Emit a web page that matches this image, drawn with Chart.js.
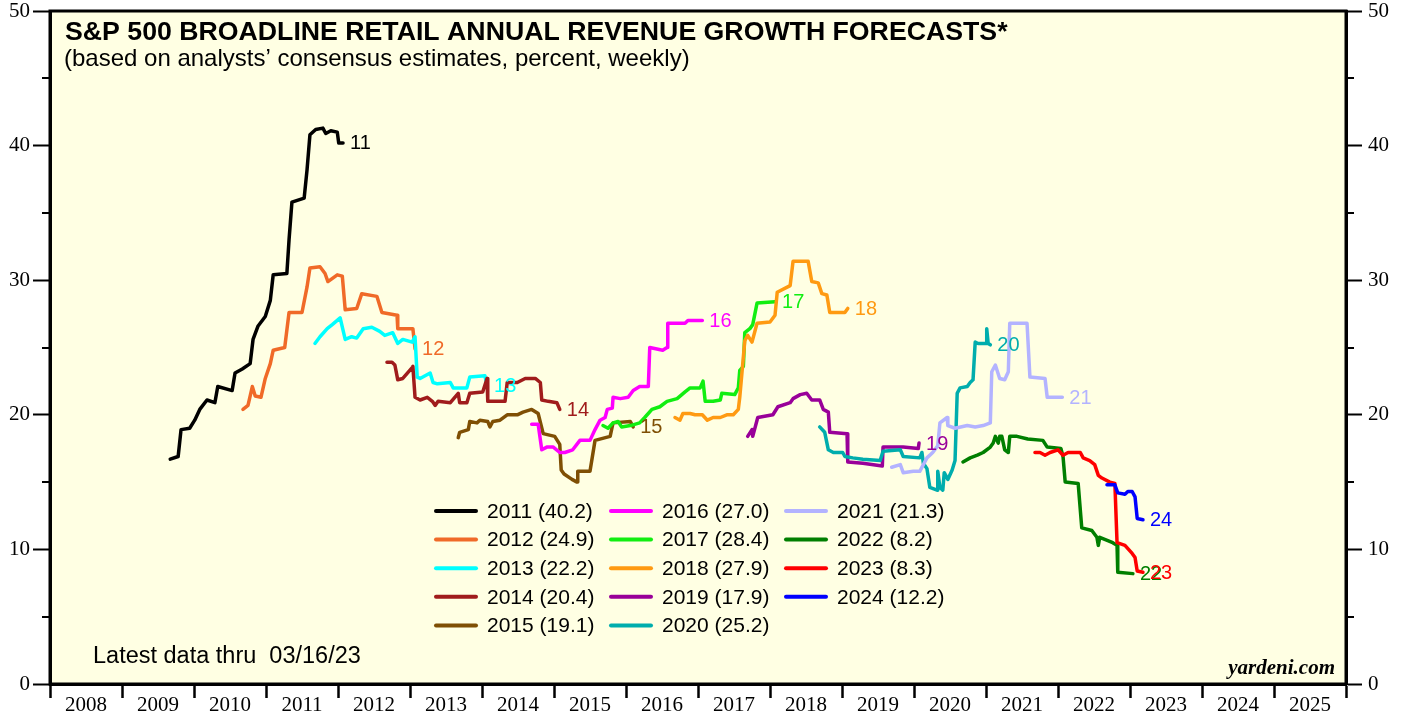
<!DOCTYPE html>
<html>
<head>
<meta charset="utf-8">
<script src="https://cdn.jsdelivr.net/npm/chart.js@4.4.1/dist/chart.umd.min.js"></script>
<style>
  html, body { margin: 0; padding: 0; background: #ffffff; }
  canvas { display: block; }
</style>
</head>
<body>
<canvas id="c" width="1406" height="717"></canvas>
<script>
// ---------- DATA (decimal year, percent) ----------
const forecastYears = [2011, 2012, 2013, 2014, 2015, 2016, 2017, 2018, 2019, 2020, 2021, 2022, 2023, 2024];
const legendValues  = [40.2, 24.9, 22.2, 20.4, 19.1, 27.0, 28.4, 27.9, 17.9, 25.2, 21.3, 8.2, 8.3, 12.2];
const xYearTicks = [2008, 2009, 2010, 2011, 2012, 2013, 2014, 2015, 2016, 2017, 2018, 2019, 2020, 2021, 2022, 2023, 2024, 2025];
const yTicks = [0, 10, 20, 30, 40, 50];

const s2011 = [[2009.67,16.7],[2009.78,16.9],[2009.82,18.9],[2009.94,19.0],[2010.01,19.6],[2010.08,20.4],[2010.18,21.1],[2010.29,20.9],[2010.33,22.1],[2010.53,21.8],[2010.57,23.1],[2010.67,23.4],[2010.78,23.8],[2010.82,25.6],[2010.89,26.6],[2010.99,27.3],[2011.06,28.5],[2011.10,30.4],[2011.29,30.5],[2011.32,33.0],[2011.36,35.8],[2011.53,36.1],[2011.57,38.2],[2011.61,40.8],[2011.69,41.2],[2011.79,41.3],[2011.83,40.9],[2011.90,41.1],[2011.99,41.0],[2012.01,40.2],[2012.07,40.2]];
const s2012 = [[2010.68,20.4],[2010.75,20.7],[2010.81,22.1],[2010.85,21.4],[2010.93,21.3],[2010.99,22.7],[2011.06,23.8],[2011.10,24.8],[2011.26,25.0],[2011.32,27.6],[2011.50,27.6],[2011.57,29.5],[2011.61,30.9],[2011.75,31.0],[2011.82,30.5],[2011.86,29.9],[2011.99,30.4],[2012.06,30.3],[2012.10,27.8],[2012.26,27.9],[2012.33,29.0],[2012.54,28.8],[2012.61,27.6],[2012.82,27.4],[2012.83,26.4],[2013.04,26.4],[2013.07,24.9]];
const s2013 = [[2011.68,25.3],[2011.75,25.8],[2011.85,26.4],[2011.92,26.7],[2012.03,27.2],[2012.10,25.6],[2012.19,25.8],[2012.26,25.7],[2012.35,26.4],[2012.47,26.5],[2012.58,26.2],[2012.65,25.9],[2012.76,26.1],[2012.83,25.3],[2012.90,25.6],[2013.03,25.4],[2013.07,25.8],[2013.10,22.8],[2013.14,22.7],[2013.28,23.1],[2013.32,22.4],[2013.38,22.3],[2013.56,22.4],[2013.60,22.0],[2013.79,22.0],[2013.83,22.8],[2014.04,22.9],[2014.07,22.2]];
const s2014 = [[2012.68,23.9],[2012.75,23.9],[2012.79,23.7],[2012.83,22.6],[2012.90,22.7],[2013.03,23.5],[2013.04,23.6],[2013.07,21.3],[2013.14,21.1],[2013.24,21.3],[2013.31,21.0],[2013.35,20.7],[2013.39,21.0],[2013.56,20.9],[2013.67,21.6],[2013.69,20.9],[2013.79,20.9],[2013.83,21.6],[2014.01,21.7],[2014.07,22.7],[2014.08,21.0],[2014.32,21.0],[2014.35,22.4],[2014.49,22.4],[2014.60,22.7],[2014.74,22.7],[2014.81,22.4],[2014.83,21.1],[2014.92,21.0],[2015.04,20.9],[2015.08,20.4]];
const s2015 = [[2013.67,18.3],[2013.69,18.7],[2013.81,18.9],[2013.83,19.5],[2013.93,19.4],[2013.97,19.6],[2014.08,19.5],[2014.11,19.1],[2014.15,19.5],[2014.25,19.6],[2014.35,20.0],[2014.49,20.0],[2014.57,20.2],[2014.69,20.4],[2014.78,20.1],[2014.85,18.6],[2015.01,18.4],[2015.08,17.8],[2015.10,15.9],[2015.14,15.6],[2015.25,15.2],[2015.32,15.0],[2015.33,15.8],[2015.50,15.8],[2015.57,18.1],[2015.78,18.4],[2015.82,19.4],[2016.06,19.5],[2016.10,19.1]];
const s2016 = [[2014.69,19.3],[2014.78,19.3],[2014.83,17.4],[2014.90,17.6],[2014.99,17.6],[2015.08,17.2],[2015.15,17.2],[2015.26,17.4],[2015.36,18.1],[2015.50,18.1],[2015.57,18.9],[2015.64,19.6],[2015.71,19.8],[2015.74,20.4],[2015.81,20.5],[2015.82,21.3],[2015.92,21.2],[2016.03,21.3],[2016.10,21.8],[2016.19,22.1],[2016.31,22.1],[2016.33,25.0],[2016.51,24.8],[2016.57,25.0],[2016.58,26.8],[2016.82,26.8],[2016.86,27.0],[2017.06,27.0]];
const s2017 = [[2015.68,19.2],[2015.75,19.0],[2015.82,19.4],[2015.89,19.5],[2015.94,19.1],[2016.06,19.2],[2016.19,19.4],[2016.26,19.8],[2016.36,20.4],[2016.47,20.6],[2016.57,21.0],[2016.71,21.2],[2016.82,21.7],[2016.89,22.0],[2017.03,22.0],[2017.07,22.5],[2017.10,21.0],[2017.21,21.0],[2017.31,21.1],[2017.33,21.6],[2017.51,21.5],[2017.56,22.0],[2017.58,23.3],[2017.63,23.6],[2017.65,26.1],[2017.72,26.4],[2017.76,26.7],[2017.82,28.3],[2018.07,28.4]];
const s2018 = [[2016.68,19.8],[2016.75,19.6],[2016.79,20.1],[2016.89,20.1],[2016.96,20.0],[2017.06,20.0],[2017.13,19.6],[2017.21,19.8],[2017.31,19.8],[2017.40,20.0],[2017.49,20.0],[2017.56,20.4],[2017.58,21.3],[2017.65,25.5],[2017.69,25.9],[2017.75,25.4],[2017.82,26.8],[2018.00,26.9],[2018.07,27.4],[2018.10,29.1],[2018.28,29.6],[2018.32,31.4],[2018.53,31.4],[2018.58,29.9],[2018.67,29.8],[2018.72,29.0],[2018.79,28.9],[2018.83,27.6],[2019.04,27.6],[2019.08,27.9]];
const s2019 = [[2017.69,18.4],[2017.75,18.9],[2017.76,18.4],[2017.83,19.8],[2018.04,20.0],[2018.11,20.6],[2018.28,20.9],[2018.32,21.2],[2018.42,21.5],[2018.51,21.6],[2018.58,21.1],[2018.69,21.1],[2018.74,20.4],[2018.81,20.2],[2018.83,18.7],[2019.07,18.6],[2019.08,16.5],[2019.29,16.4],[2019.56,16.2],[2019.57,17.6],[2019.85,17.6],[2020.06,17.5],[2020.07,17.9]];
const s2020 = [[2018.69,19.1],[2018.76,18.7],[2018.81,17.4],[2018.88,17.2],[2019.01,17.2],[2019.04,16.9],[2019.15,16.8],[2019.29,16.7],[2019.53,16.6],[2019.57,17.3],[2019.81,17.4],[2019.85,16.9],[2020.08,16.8],[2020.11,17.2],[2020.13,16.4],[2020.18,16.0],[2020.22,14.6],[2020.32,14.4],[2020.33,15.8],[2020.36,14.6],[2020.40,14.4],[2020.42,15.7],[2020.47,15.2],[2020.53,15.9],[2020.57,16.6],[2020.60,21.6],[2020.64,22.0],[2020.74,22.1],[2020.78,22.4],[2020.82,22.6],[2020.85,25.4],[2020.89,25.3],[2021.00,25.3],[2021.01,26.4],[2021.03,25.3],[2021.06,25.2]];
const s2021 = [[2019.69,16.1],[2019.81,16.3],[2019.85,15.7],[2019.99,15.8],[2020.08,15.8],[2020.18,16.8],[2020.26,17.2],[2020.33,17.7],[2020.36,19.4],[2020.46,19.8],[2020.47,19.2],[2020.57,19.0],[2020.74,19.2],[2020.85,19.1],[2020.96,19.2],[2021.06,19.4],[2021.08,23.2],[2021.13,23.7],[2021.19,22.7],[2021.26,22.6],[2021.31,23.2],[2021.33,26.8],[2021.57,26.8],[2021.61,22.8],[2021.82,22.7],[2021.85,21.3],[2022.06,21.3]];
const s2022 = [[2020.68,16.5],[2020.78,16.8],[2020.88,17.0],[2020.96,17.2],[2021.06,17.6],[2021.10,17.9],[2021.13,18.4],[2021.17,17.9],[2021.19,18.4],[2021.22,18.4],[2021.26,17.4],[2021.31,17.2],[2021.33,18.4],[2021.43,18.4],[2021.58,18.2],[2021.79,18.1],[2021.85,17.6],[2022.04,17.5],[2022.07,16.9],[2022.10,15.0],[2022.28,14.9],[2022.33,11.6],[2022.47,11.4],[2022.54,10.9],[2022.56,10.3],[2022.58,10.9],[2022.76,10.5],[2022.82,10.3],[2022.83,8.3],[2023.04,8.2]];
const s2023 = [[2021.68,17.2],[2021.75,17.2],[2021.82,17.0],[2021.89,17.2],[2022.00,17.4],[2022.07,17.0],[2022.14,17.2],[2022.31,17.2],[2022.35,16.8],[2022.44,16.6],[2022.51,16.3],[2022.56,15.5],[2022.61,15.3],[2022.72,15.0],[2022.79,14.9],[2022.82,10.5],[2022.93,10.3],[2023.03,9.7],[2023.07,9.4],[2023.10,8.4],[2023.18,8.3]];
const s2024 = [[2022.68,14.8],[2022.79,14.8],[2022.83,14.2],[2022.93,14.1],[2022.97,14.3],[2023.03,14.3],[2023.07,13.9],[2023.10,12.3],[2023.18,12.2]];

const seriesData = [s2011, s2012, s2013, s2014, s2015, s2016, s2017, s2018, s2019, s2020, s2021, s2022, s2023, s2024];
const seriesColors = ['#000000', '#F06A28', '#00FFFF', '#A01C1C', '#7F4F04', '#FF00FF', '#11EE11', '#FF9A12', '#990099', '#00ADAD', '#B3B3FF', '#007F00', '#FF0000', '#0000FF'];

// ---------- STYLE ----------
const SANS = '"Liberation Sans", Arial, Helvetica, sans-serif';
const SERIF = '"Liberation Serif", "Times New Roman", serif';
const PLOT_BG = '#FFFFE3';

const datasets = seriesData.map((s, i) => ({
  label: String(forecastYears[i]),
  data: s.map(p => ({ x: p[0], y: p[1] })),
  borderColor: seriesColors[i],
  backgroundColor: seriesColors[i],
  borderWidth: 3.5,
  pointRadius: 0,
  tension: 0,
  fill: false,
  order: -i,
  borderJoinStyle: 'round',
  borderCapStyle: 'round'
}));

const decorPlugin = {
  id: 'decor',
  beforeDraw(chart) {
    const { ctx, chartArea: a } = chart;
    ctx.save();
    ctx.fillStyle = '#ffffff';
    ctx.fillRect(0, 0, chart.width, chart.height);
    ctx.fillStyle = PLOT_BG;
    ctx.fillRect(a.left, a.top, a.right - a.left, a.bottom - a.top);
    ctx.restore();
  },
  afterDatasetsDraw(chart) {
    const { ctx } = chart;
    const xs = chart.scales.x, ys = chart.scales.y;
    ctx.save();
    // end-of-line labels
    ctx.font = '20px ' + SANS;
    ctx.textBaseline = 'middle';
    ctx.textAlign = 'left';
    seriesData.forEach((s, i) => {
      const last = s[s.length - 1];
      ctx.fillStyle = seriesColors[i];
      ctx.fillText(String(forecastYears[i]).slice(2), xs.getPixelForValue(last[0]) + 7, ys.getPixelForValue(last[1]) + 1);
    });
    // legend (3 columns)
    const colX = [436, 611, 786];
    const rowY0 = 511, rowH = 28.6;
    ctx.font = '21px ' + SANS;
    forecastYears.forEach((yr, i) => {
      const col = Math.floor(i / 5), row = i % 5;
      const x = colX[col], y = rowY0 + row * rowH;
      ctx.strokeStyle = seriesColors[i];
      ctx.lineWidth = 4;
      ctx.lineCap = 'round';
      ctx.beginPath();
      ctx.moveTo(x, y);
      ctx.lineTo(x + 40, y);
      ctx.stroke();
      ctx.fillStyle = '#000000';
      ctx.fillText(yr + ' (' + legendValues[i].toFixed(1) + ')', x + 51, y + 1);
    });
    ctx.restore();
  },
  afterDraw(chart) {
    const { ctx, chartArea: a } = chart;
    const ys = chart.scales.y;
    ctx.save();
    // minor ticks at 5s
    ctx.strokeStyle = '#000';
    ctx.lineWidth = 2;
    [5, 15, 25, 35, 45].forEach(v => {
      const py = Math.round(ys.getPixelForValue(v));
      ctx.beginPath();
      ctx.moveTo(a.left - 8, py); ctx.lineTo(a.left, py);
      ctx.moveTo(a.right, py); ctx.lineTo(a.right + 8, py);
      ctx.stroke();
    });
    // frame
    ctx.lineWidth = 3;
    ctx.strokeRect(a.left, a.top, a.right - a.left, a.bottom - a.top);
    // texts
    ctx.fillStyle = '#000';
    ctx.textAlign = 'left';
    ctx.textBaseline = 'alphabetic';
    ctx.font = 'bold 26.7px ' + SANS;
    ctx.fillText('S&P 500 BROADLINE RETAIL ANNUAL REVENUE GROWTH FORECASTS*', 65, 40);
    ctx.font = '24px ' + SANS;
    ctx.fillText('(based on analysts\u2019 consensus estimates, percent, weekly)', 64, 66);
    ctx.font = '23.5px ' + SANS;
    ctx.fillText('Latest data thru  03/16/23', 93, 663);
    ctx.font = 'italic bold 21px ' + SERIF;
    ctx.textAlign = 'right';
    ctx.fillText('yardeni.com', 1335, 674);
    ctx.restore();
  }
};

function fitY(width) {
  return function (scale) {
    scale.width = width;
    scale.paddingTop = 0; scale.paddingBottom = 0;
    scale.paddingLeft = 0; scale.paddingRight = 0;
  };
}

new Chart(document.getElementById('c'), {
  type: 'line',
  data: { datasets },
  plugins: [decorPlugin],
  options: {
    responsive: false,
    animation: false,
    events: [],
    layout: { padding: { top: 11, left: 0, right: 0, bottom: 0 } },
    plugins: { legend: { display: false }, tooltip: { enabled: false } },
    scales: {
      x: {
        type: 'linear',
        position: 'bottom',
        min: 2008, max: 2026,
        afterBuildTicks(scale) {
          scale.ticks = xYearTicks.concat([2026]).map(v => ({ value: v }));
        },
        ticks: {
          autoSkip: false, maxRotation: 0, minRotation: 0,
          labelOffset: 36,
          padding: -5,
          color: '#000',
          font: { family: SERIF, size: 21 },
          callback: (v) => (xYearTicks.includes(v) ? String(v) : '')
        },
        grid: { drawOnChartArea: false, drawTicks: true, tickLength: 14, tickWidth: 2.5, tickColor: '#000' },
        border: { display: true, color: '#000', width: 3 },
        afterFit(scale) {
          scale.height = 33;
          scale.paddingLeft = 0; scale.paddingRight = 0;
          scale.paddingTop = 0; scale.paddingBottom = 0;
        }
      },
      y: {
        type: 'linear',
        position: 'left',
        min: 0, max: 50,
        afterBuildTicks(scale) { scale.ticks = yTicks.map(v => ({ value: v })); },
        ticks: { color: '#000', padding: 3, font: { family: SERIF, size: 21 } },
        grid: { drawOnChartArea: false, drawTicks: true, tickLength: 17, tickWidth: 2, tickColor: '#000' },
        border: { display: true, color: '#000', width: 3 },
        afterFit: fitY(50)
      },
      y2: {
        type: 'linear',
        position: 'right',
        min: 0, max: 50,
        afterBuildTicks(scale) { scale.ticks = yTicks.map(v => ({ value: v })); },
        ticks: { color: '#000', padding: 6, font: { family: SERIF, size: 21 } },
        grid: { drawOnChartArea: false, drawTicks: true, tickLength: 16, tickWidth: 2, tickColor: '#000' },
        border: { display: true, color: '#000', width: 3 },
        afterFit: fitY(60)
      }
    }
  }
});
</script>
</body>
</html>
